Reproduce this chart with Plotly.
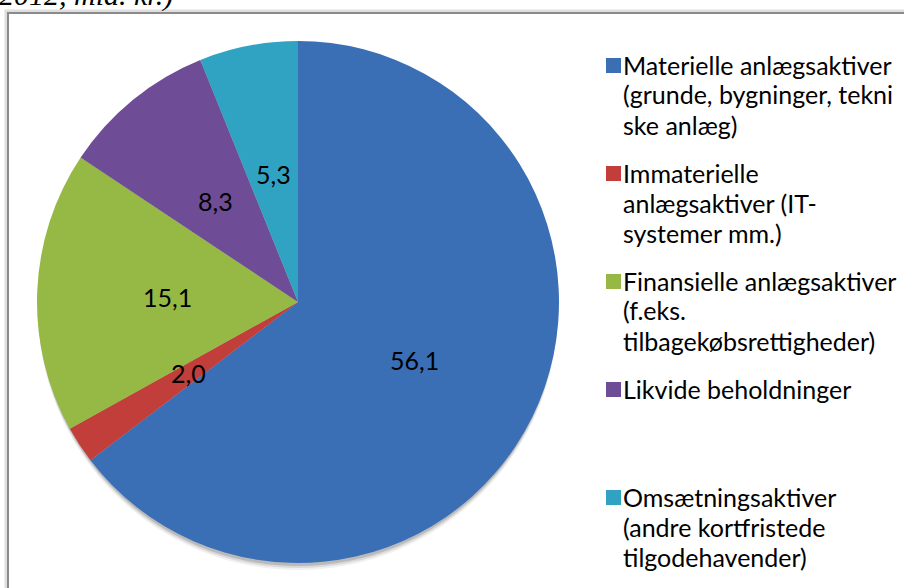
import math
import plotly.graph_objects as go

# ---- data ----
categories = [
    "Materielle anlægsaktiver (grunde, bygninger, tekniske anlæg)",
    "Immaterielle anlægsaktiver (IT-systemer mm.)",
    "Finansielle anlægsaktiver (f.eks. tilbagekøbsrettigheder)",
    "Likvide beholdninger",
    "Omsætningsaktiver (andre kortfristede tilgodehavender)",
]
legend_lines = [
    ["Materielle anlægsaktiver", "(grunde, bygninger, tekni", "ske anlæg)"],
    ["Immaterielle", "anlægsaktiver (IT-", "systemer mm.)"],
    ["Finansielle anlægsaktiver", "(f.eks.", "tilbagekøbsrettigheder)"],
    ["Likvide beholdninger"],
    ["Omsætningsaktiver", "(andre kortfristede", "tilgodehavender)"],
]
values = [56.1, 2.0, 15.1, 8.3, 5.3]
colors = ["#3a6fb6", "#c13e3a", "#96b845", "#6f4c96", "#31a3c2"]
title_text = "2012, mia. kr.)"

# ---- layout constants (pixels) ----
W, H = 904, 588
CX, CY, R = 298, 302, 261
FONT = "Lato"
FS = 25

def px(x):
    return x / W

def py(y):
    return 1 - y / H

fig = go.Figure()
fig.add_trace(go.Pie(
    labels=categories,
    values=values,
    sort=False,
    direction="clockwise",
    rotation=0,
    marker=dict(colors=colors, line=dict(width=0)),
    textinfo="none",
    showlegend=False,
    domain=dict(x=[px(CX - R), px(CX + R)], y=[py(CY + R), py(CY - R)]),
))

annotations = []
shapes = []

# data labels at half radius along slice bisectors
total = sum(values)
cum = 0.0
for v in values:
    mid = (cum + v / 2) / total * 2 * math.pi
    cum += v
    lx = CX + 0.5 * R * math.sin(mid)
    ly = CY - 0.5 * R * math.cos(mid)
    annotations.append(dict(
        x=px(lx), y=py(ly), xref="paper", yref="paper",
        text=f"{v:.1f}".replace(".", ","), showarrow=False,
        xanchor="center", yanchor="middle",
        font=dict(family=FONT, size=FS, color="#000000"),
    ))

# custom legend
first_baseline = 75
item_pitch = 108
line_pitch = 30
for i, lines in enumerate(legend_lines):
    b0 = first_baseline + i * item_pitch
    shapes.append(dict(
        type="rect", xref="paper", yref="paper",
        x0=px(606), x1=px(621), y0=py(b0 - 2), y1=py(b0 - 17),
        fillcolor=colors[i], line=dict(width=0),
    ))
    for j, t in enumerate(lines):
        b = b0 + j * line_pitch
        annotations.append(dict(
            x=px(621), y=py(b - 10.5), xref="paper", yref="paper",
            text=t, showarrow=False, xanchor="left", yanchor="middle",
            font=dict(family=FONT, size=FS, color="#000000"),
        ))

# cut-off title text at the top
annotations.append(dict(
    x=px(-3), y=py(14.5), xref="paper", yref="paper",
    text="<i>" + title_text + "</i>", showarrow=False,
    xanchor="left", yanchor="bottom",
    font=dict(family="Liberation Serif", size=30, color="#000000"),
))

# pie shadow
for off, op in [(7, 0.07), (5, 0.12), (3, 0.2)]:
    shapes.append(dict(
        type="circle", xref="paper", yref="paper", layer="below",
        x0=px(CX - R + 1), x1=px(CX + R - 1),
        y0=py(CY + R + off), y1=py(CY - R + off),
        fillcolor="rgba(60,60,60,%s)" % op, line=dict(width=0),
    ))

# chart border
shapes.append(dict(
    type="rect", xref="paper", yref="paper", layer="below",
    x0=px(6), x1=px(W + 20), y0=py(H + 20), y1=py(11),
    fillcolor="rgba(0,0,0,0)", line=dict(color="rgba(200,200,200,0.6)", width=3),
))
shapes.append(dict(
    type="rect", xref="paper", yref="paper",
    x0=px(8), x1=px(W + 20), y0=py(H + 20), y1=py(13),
    fillcolor="rgba(0,0,0,0)", line=dict(color="#8a8a8a", width=2),
))

fig.update_layout(
    width=W, height=H,
    margin=dict(l=0, r=0, t=0, b=0),
    paper_bgcolor="white", plot_bgcolor="white",
    annotations=annotations, shapes=shapes,
    showlegend=False,
)

fig.write_html(
    "out.html",
    config={"displayModeBar": False},
    post_script="document.body.style.margin='0';document.body.style.overflow='hidden';",
)
